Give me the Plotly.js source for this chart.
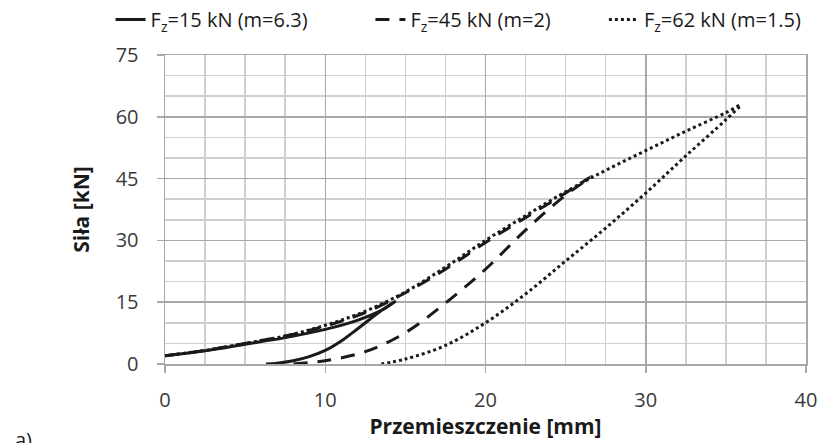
<!DOCTYPE html>
<html><head><meta charset="utf-8">
<script src="https://cdn.plot.ly/plotly-3.0.1.min.js"></script>
<style>body{margin:0;background:#fff}#c{width:825px;height:443px}</style>
</head><body><div id="c"></div>
<script>
// F_z = 15 kN : loading then unloading
const s15_x = [0, 2.5, 5, 7.5, 10, 12, 13.5, 14.4, 13.5, 13, 12, 11, 10, 9, 8, 7, 6.3];
const s15_y = [2, 3.2, 4.8, 6.4, 8.4, 10.6, 13, 15.3, 13, 11.5, 8.5, 5.6, 3.3, 1.8, 0.8, 0.2, 0];
// F_z = 45 kN
const s45_x = [0, 2.5, 5, 7.5, 10, 12.5, 15, 17.5, 20, 22.5, 25, 26.6, 25, 22.5, 20, 17.5, 15, 12.5, 10, 8];
const s45_y = [2, 3.3, 5, 6.8, 9.2, 12.5, 17.3, 23, 29.5, 35.5, 41.5, 45.5, 41, 32.5, 23, 14.8, 7.6, 3, 0.8, 0];
// F_z = 62 kN
const s62_x = [0, 2.5, 5, 7.5, 10, 12.5, 15, 17.5, 20, 22.5, 25, 27.5, 30, 32.5, 35, 35.9, 35, 32.5, 30, 27.5, 25, 22.5, 20, 17.5, 15, 13.5];
const s62_y = [2, 3.3, 5, 6.8, 9.4, 12.8, 17.5, 23.5, 30, 36, 41.8, 47, 51.8, 56.5, 61, 62.8, 59.3, 50.5, 41.5, 33, 25, 17, 10, 4.5, 1.2, 0];

const names = ['F<sub>z</sub>=15 kN (m=6.3)', 'F<sub>z</sub>=45 kN (m=2)', 'F<sub>z</sub>=62 kN (m=1.5)'];
const xTicks = [0, 10, 20, 30, 40];
const yTicks = [0, 15, 30, 45, 60, 75];

const font = 'Open Sans, sans-serif';
const traces = [
  {x: s15_x, y: s15_y, name: names[0], legend: 'legend', mode: 'lines', line: {color: '#1a1a1a', width: 3, dash: 'solid', shape: 'spline'}},
  {x: s45_x, y: s45_y, name: names[1], legend: 'legend2', mode: 'lines', line: {color: '#1a1a1a', width: 3, dash: '14px,10px', shape: 'spline'}},
  {x: s62_x, y: s62_y, name: names[2], legend: 'legend3', mode: 'lines', line: {color: '#1a1a1a', width: 3, dash: 'dot', shape: 'spline'}}
];

function leg(x) {
  return {orientation: 'h', x: x, xref: 'container', xanchor: 'left', y: 1.0, yanchor: 'top', yref: 'container',
          font: {family: font, size: 20, color: '#1a1a1a'}, bgcolor: 'rgba(0,0,0,0)'};
}

const layout = {
  width: 825, height: 443,
  margin: {l: 165, r: 19, t: 55, b: 79},
  paper_bgcolor: '#fff', plot_bgcolor: '#fff',
  font: {family: font, size: 20, color: '#3a3a3a'},
  showlegend: true,
  legend: leg(0.134), legend2: leg(0.449), legend3: leg(0.732),
  xaxis: {
    range: [0, 40], tickvals: xTicks, ticktext: xTicks.map(String),
    showgrid: true, gridcolor: '#a8a8a8', gridwidth: 1.5,
    minor: {dtick: 2.5, showgrid: true, gridcolor: '#cfcfcf', gridwidth: 1.5},
    showline: true, linecolor: '#a8a8a8', linewidth: 1.5, mirror: true,
    ticks: 'outside', ticklen: 7, tickcolor: '#a8a8a8', tickwidth: 1.5, ticklabelstandoff: 10,
    zeroline: false, tickfont: {family: font, size: 20, color: '#3a3a3a'},
    title: {text: '<b>Przemieszczenie [mm]</b>', font: {family: font, size: 21, color: '#1a1a1a'}, standoff: 6}
  },
  yaxis: {
    range: [0, 75], tickvals: yTicks, ticktext: yTicks.map(String),
    showgrid: true, gridcolor: '#a8a8a8', gridwidth: 1.5,
    minor: {dtick: 5, showgrid: true, gridcolor: '#cfcfcf', gridwidth: 1.5},
    showline: true, linecolor: '#a8a8a8', linewidth: 1.5, mirror: true,
    ticks: 'outside', ticklen: 7, tickcolor: '#a8a8a8', tickwidth: 1.5, ticklabelstandoff: 14,
    zeroline: false, tickfont: {family: font, size: 20, color: '#3a3a3a'},
    title: {text: '<b>Siła [kN]</b>', font: {family: font, size: 21, color: '#1a1a1a'}, standoff: 20}
  },
  annotations: [{text: 'a)', xref: 'paper', yref: 'paper', x: -0.237, y: -0.245, xanchor: 'left', yanchor: 'middle',
                 showarrow: false, font: {family: font, size: 20, color: '#1a1a1a'}}]
};
Plotly.newPlot('c', traces, layout, {staticPlot: true});
</script></body></html>
